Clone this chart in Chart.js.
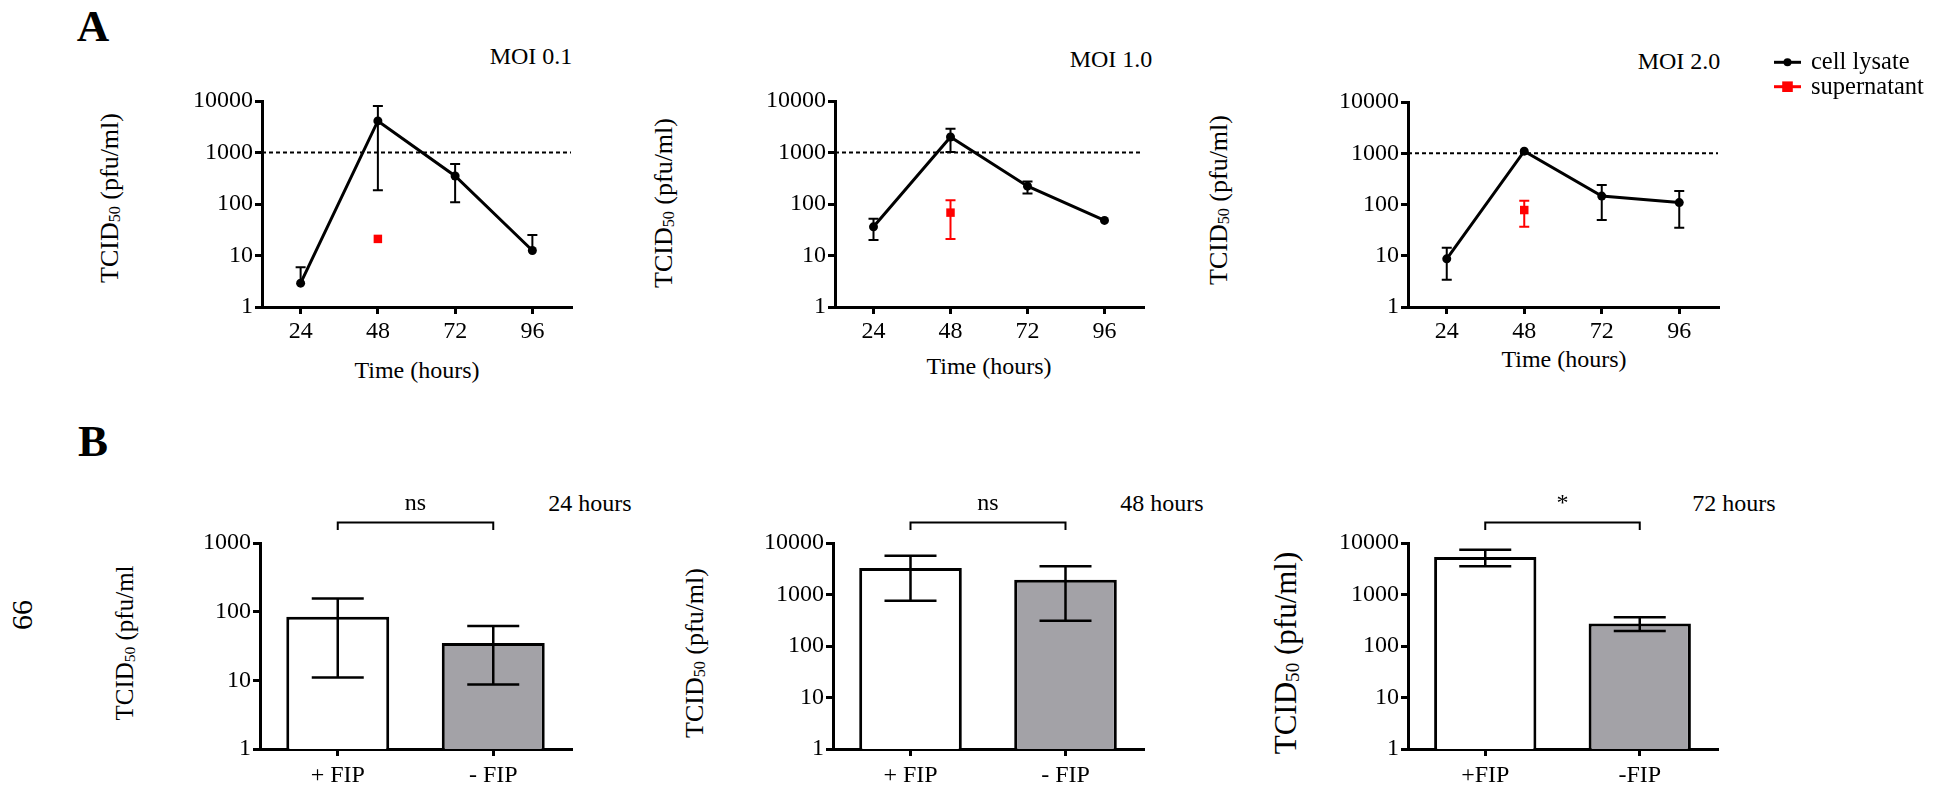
<!DOCTYPE html>
<html>
<head>
<meta charset="utf-8">
<script src="https://cdn.jsdelivr.net/npm/chart.js@4.4.1/dist/chart.umd.min.js"></script>
<style>
  html, body { margin: 0; padding: 0; background: #fff; }
  #fig { position: relative; width: 1944px; height: 787px; overflow: hidden; background: #fff;
         font-family: "Liberation Serif", "Times New Roman", serif; color: #000; }
  #fig canvas { position: absolute; }
  .t { position: absolute; white-space: nowrap; line-height: 1; transform: translate(-50%, -50%); }
  .rot { transform: translate(-50%, -50%) rotate(-90deg); }
  .t sub { font-size: 0.62em; vertical-align: 0; position: relative; top: 0.15em; line-height: 0; }
</style>
</head>
<body>
<div id="fig">
  <div class="t" style="left:93px;top:26px;font-size:45px;font-weight:bold">A</div>
  <div class="t" style="left:93px;top:441px;font-size:45px;font-weight:bold">B</div>
  <div class="t rot" style="left:22px;top:615px;font-size:30px">66</div>

  <div class="t" style="left:531px;top:56px;font-size:24px">MOI 0.1</div>
  <div class="t" style="left:1111px;top:59px;font-size:24px">MOI 1.0</div>
  <div class="t" style="left:1679px;top:61px;font-size:24px">MOI 2.0</div>

  <div class="t" style="left:417px;top:370px;font-size:24px">Time (hours)</div>
  <div class="t" style="left:989px;top:366px;font-size:24px">Time (hours)</div>
  <div class="t" style="left:1564px;top:359px;font-size:24px">Time (hours)</div>

  <div class="t rot" style="left:110px;top:198px;font-size:26px">TCID<sub>50</sub> (pfu/ml)</div>
  <div class="t rot" style="left:664px;top:203px;font-size:26px">TCID<sub>50</sub> (pfu/ml)</div>
  <div class="t rot" style="left:1219px;top:200px;font-size:26px">TCID<sub>50</sub> (pfu/ml)</div>

  <div class="t rot" style="left:124px;top:643px;font-size:25px">TCID<sub>50</sub> (pfu/ml</div>
  <div class="t rot" style="left:695px;top:653px;font-size:26px">TCID<sub>50</sub> (pfu/ml)</div>
  <div class="t rot" style="left:1285px;top:653px;font-size:31px">TCID<sub>50</sub> (pfu/ml)</div>

  <div class="t" style="left:590px;top:503px;font-size:24px">24 hours</div>
  <div class="t" style="left:1162px;top:503px;font-size:24px">48 hours</div>
  <div class="t" style="left:1734px;top:503px;font-size:24px">72 hours</div>
</div>

<script>
// ---- Panel A: virus titre over time (log scale), mean with error range ----
const hours = [24, 48, 72, 96];
const yTicksA = [1, 10, 100, 1000, 10000];
const threshold = 1000;
const seriesNames = ['cell lysate', 'supernatant'];

const lysateMoi01   = [2.9, 4100, 350, 12.5];
const lysateMoi01Hi = [5.9, 8000, 600, 25];
const lysateMoi01Lo = [null, 185, 108, null];
const superMoi01    = [null, 21, null, null];
const superMoi01Hi  = [null, null, null, null];
const superMoi01Lo  = [null, null, null, null];

const lysateMoi10   = [36, 2000, 222, 48];
const lysateMoi10Hi = [52, 2900, 272, null];
const lysateMoi10Lo = [20, 1020, 160, null];
const superMoi10    = [null, 68, null, null];
const superMoi10Hi  = [null, 118, null, null];
const superMoi10Lo  = [null, 21, null, null];

const lysateMoi20   = [8.7, 1100, 146, 109];
const lysateMoi20Hi = [14.3, null, 239, 183];
const lysateMoi20Lo = [3.4, null, 50, 35];
const superMoi20    = [null, 78, null, null];
const superMoi20Hi  = [null, 119, null, null];
const superMoi20Lo  = [null, 37, null, null];

// ---- Panel B: titre with and without FIP at each time point ----
const fipLabels   = ['+ FIP', '- FIP'];
const fipLabels72 = ['+FIP', '-FIP'];
const yTicks24 = [1, 10, 100, 1000];
const yTicksB  = [1, 10, 100, 1000, 10000];
const titer24   = [84, 35];
const titer24Hi = [155, 62];
const titer24Lo = [11, 8.7];
const titer48   = [3270, 1940];
const titer48Hi = [5680, 3520];
const titer48Lo = [760, 310];
const titer72   = [5350, 272];
const titer72Hi = [7420, 360];
const titer72Lo = [3520, 196];
const signif = ['ns', 'ns', '*'];

const FONT = 'Liberation Serif';
Chart.defaults.font.family = FONT;
Chart.defaults.color = '#000';

const YW = 90;   // fixed width of the y axis box
const XH = 60;   // fixed height of the x axis box
const BAR_GREY = '#a3a2a7';
const RED = '#ff0000';

function mountCanvas(area, pad) {
  const cv = document.createElement('canvas');
  const w = area.right - area.left + pad.l + pad.r;
  const h = area.bottom - area.top + pad.t + pad.b;
  cv.width = w; cv.height = h;
  cv.style.left = (area.left - pad.l) + 'px';
  cv.style.top = (area.top - pad.t) + 'px';
  cv.style.width = w + 'px';
  cv.style.height = h + 'px';
  document.getElementById('fig').appendChild(cv);
  return cv;
}

function layoutPad(pad) {
  return { left: pad.l - YW, top: pad.t, right: pad.r, bottom: pad.b - XH };
}

function logAxis(max, ticks) {
  return {
    type: 'logarithmic', min: 1, max: max,
    afterBuildTicks: s => { s.ticks = ticks.map(v => ({ value: v })); },
    afterFit: s => { s.width = YW; },
    ticks: { color: '#000', font: { family: FONT, size: 24, lineHeight: 1 }, padding: 2,
             autoSkip: false, callback: v => String(v) },
    grid: { drawOnChartArea: false, drawTicks: true, tickLength: 7, color: '#000', lineWidth: 3 },
    border: { display: true, color: '#000', width: 3 }
  };
}

// vertical error bars with caps, anchored on the drawn elements
const errorBarPlugin = {
  id: 'errorBars',
  afterDatasetsDraw(chart, args, opts) {
    const ctx = chart.ctx, ys = chart.scales.y;
    (opts.items || []).forEach(it => {
      const meta = chart.getDatasetMeta(it.dataset);
      const raw = chart.data.datasets[it.dataset].data;
      ctx.save();
      ctx.strokeStyle = it.color;
      ctx.lineWidth = it.width;
      ctx.lineCap = 'butt';
      meta.data.forEach((el, i) => {
        const d = raw[i];
        const val = (d !== null && typeof d === 'object') ? d.y : d;
        const hi = it.hi[i], lo = it.lo[i];
        if (val == null || (hi == null && lo == null)) return;
        const x = el.x;
        const yTop = ys.getPixelForValue(hi != null ? hi : val);
        const yBot = ys.getPixelForValue(lo != null ? lo : val);
        ctx.beginPath();
        ctx.moveTo(x, yTop); ctx.lineTo(x, yBot);
        if (hi != null) { ctx.moveTo(x - it.cap, yTop); ctx.lineTo(x + it.cap, yTop); }
        if (lo != null) { ctx.moveTo(x - it.cap, yBot); ctx.lineTo(x + it.cap, yBot); }
        ctx.stroke();
      });
      ctx.restore();
    });
  }
};

// significance bracket between the two bars
const bracketPlugin = {
  id: 'bracket',
  afterDraw(chart, args, opts) {
    if (!opts.text) return;
    const ctx = chart.ctx;
    const els = chart.getDatasetMeta(0).data;
    const x1 = els[0].x, x2 = els[1].x, top = chart.chartArea.top;
    ctx.save();
    ctx.strokeStyle = '#000';
    ctx.lineWidth = 2;
    ctx.beginPath();
    ctx.moveTo(x1, top - 13); ctx.lineTo(x1, top - 20.5);
    ctx.lineTo(x2, top - 20.5); ctx.lineTo(x2, top - 13);
    ctx.stroke();
    ctx.fillStyle = '#000';
    ctx.font = '24px "' + FONT + '"';
    ctx.textAlign = 'center';
    ctx.textBaseline = 'alphabetic';
    ctx.fillText(opts.text, (x1 + x2) / 2, top - 33);
    ctx.restore();
  }
};

// series key drawn to the right of the last time-course panel
const keyPlugin = {
  id: 'seriesKey',
  afterDraw(chart, args, opts) {
    if (!opts.items) return;
    const ctx = chart.ctx;
    const ox = chart.canvas.offsetLeft, oy = chart.canvas.offsetTop;
    ctx.save();
    opts.items.forEach((it, k) => {
      const y = opts.y + k * opts.gap - oy;
      const x0 = opts.x - ox;
      ctx.strokeStyle = it.color;
      ctx.lineWidth = 3;
      ctx.beginPath(); ctx.moveTo(x0, y); ctx.lineTo(x0 + opts.lineLen, y); ctx.stroke();
      ctx.fillStyle = it.color;
      Chart.helpers.drawPoint(ctx, { pointStyle: it.style, radius: it.radius, borderWidth: 0, rotation: 0 },
                              x0 + opts.lineLen / 2, y);
      ctx.fillStyle = '#000';
      ctx.font = '24.5px "' + FONT + '"';
      ctx.textAlign = 'left';
      ctx.textBaseline = 'alphabetic';
      ctx.fillText(it.label, x0 + opts.textDx, y + 7);
    });
    ctx.restore();
  }
};

function timeCourse(area, lys, lysHi, lysLo, sup, supHi, supLo, padRight, key) {
  const pad = { l: 100, t: 60, r: padRight, b: 70 };
  const cv = mountCanvas(area, pad);
  new Chart(cv, {
    type: 'line',
    data: {
      datasets: [
        { label: seriesNames[1], data: hours.map((x, i) => ({ x: x, y: sup[i] })), showLine: false,
          pointStyle: 'rect', pointRadius: 6, pointBackgroundColor: RED, pointBorderWidth: 0,
          backgroundColor: RED, borderColor: RED, order: 1 },
        { label: seriesNames[0], data: hours.map((x, i) => ({ x: x, y: lys[i] })),
          borderColor: '#000', borderWidth: 3, tension: 0, pointRadius: 4.5,
          pointBackgroundColor: '#000', pointBorderWidth: 0, order: 2 },
        { label: 'threshold', data: [{ x: 12, y: threshold }, { x: 108, y: threshold }],
          borderColor: '#000', borderWidth: 2, borderDash: [4, 3], pointRadius: 0, order: 3 }
      ]
    },
    options: {
      responsive: false, animation: false, events: [],
      layout: { padding: layoutPad(pad) },
      scales: {
        x: {
          type: 'linear', min: 12, max: 108,
          afterBuildTicks: s => { s.ticks = hours.map(v => ({ value: v })); },
          afterFit: s => { s.height = XH; },
          ticks: { color: '#000', font: { family: FONT, size: 24, lineHeight: 1 }, padding: 6 },
          grid: { drawOnChartArea: false, drawTicks: true, tickLength: 7, color: '#000', lineWidth: 3 },
          border: { display: true, color: '#000', width: 3 }
        },
        y: logAxis(10000, yTicksA)
      },
      plugins: {
        legend: { display: false }, tooltip: { enabled: false },
        errorBars: { items: [
          { dataset: 1, hi: lysHi, lo: lysLo, color: '#000', width: 2, cap: 5 },
          { dataset: 0, hi: supHi, lo: supLo, color: RED, width: 2, cap: 5 }
        ] },
        seriesKey: key || {}
      }
    },
    plugins: [errorBarPlugin, keyPlugin]
  });
}

function fipBars(area, labels, vals, hi, lo, yMax, yTicks, mark) {
  const pad = { l: 100, t: 60, r: 20, b: 60 };
  const cv = mountCanvas(area, pad);
  new Chart(cv, {
    type: 'bar',
    data: {
      labels: labels,
      datasets: [{ data: vals, backgroundColor: ['#ffffff', BAR_GREY], borderColor: '#000',
                   borderWidth: 3, barPercentage: 0.662, categoryPercentage: 1 }]
    },
    options: {
      responsive: false, animation: false, events: [],
      layout: { padding: layoutPad(pad) },
      scales: {
        x: {
          type: 'category', offset: true,
          afterFit: s => { s.height = XH; },
          ticks: { color: '#000', font: { family: FONT, size: 24, lineHeight: 1 }, padding: 8 },
          grid: { offset: false, drawOnChartArea: false, drawTicks: true, tickLength: 7,
                  color: '#000', lineWidth: 3 },
          border: { display: true, color: '#000', width: 3 }
        },
        y: logAxis(yMax, yTicks)
      },
      plugins: {
        legend: { display: false }, tooltip: { enabled: false },
        errorBars: { items: [{ dataset: 0, hi: hi, lo: lo, color: '#000', width: 2.5, cap: 26 }] },
        bracket: { text: mark }
      }
    },
    plugins: [errorBarPlugin, bracketPlugin]
  });
}

timeCourse({ left: 262, right: 571, top: 101, bottom: 307 },
           lysateMoi01, lysateMoi01Hi, lysateMoi01Lo, superMoi01, superMoi01Hi, superMoi01Lo, 20);
timeCourse({ left: 835, right: 1143, top: 101, bottom: 307 },
           lysateMoi10, lysateMoi10Hi, lysateMoi10Lo, superMoi10, superMoi10Hi, superMoi10Lo, 20);
timeCourse({ left: 1408, right: 1718, top: 102, bottom: 307 },
           lysateMoi20, lysateMoi20Hi, lysateMoi20Lo, superMoi20, superMoi20Hi, superMoi20Lo, 226,
           { x: 1774, y: 62.3, gap: 24.4, lineLen: 27, textDx: 37,
             items: [
               { label: seriesNames[0], color: '#000', style: 'circle', radius: 4 },
               { label: seriesNames[1], color: RED, style: 'rect', radius: 7.5 }
             ] });

fipBars({ left: 260, right: 571, top: 543, bottom: 749 }, fipLabels, titer24, titer24Hi, titer24Lo, 1000, yTicks24, signif[0]);
fipBars({ left: 833, right: 1143, top: 543, bottom: 749 }, fipLabels, titer48, titer48Hi, titer48Lo, 10000, yTicksB, signif[1]);
fipBars({ left: 1408, right: 1717, top: 543, bottom: 749 }, fipLabels72, titer72, titer72Hi, titer72Lo, 10000, yTicksB, signif[2]);
</script>
</body>
</html>
